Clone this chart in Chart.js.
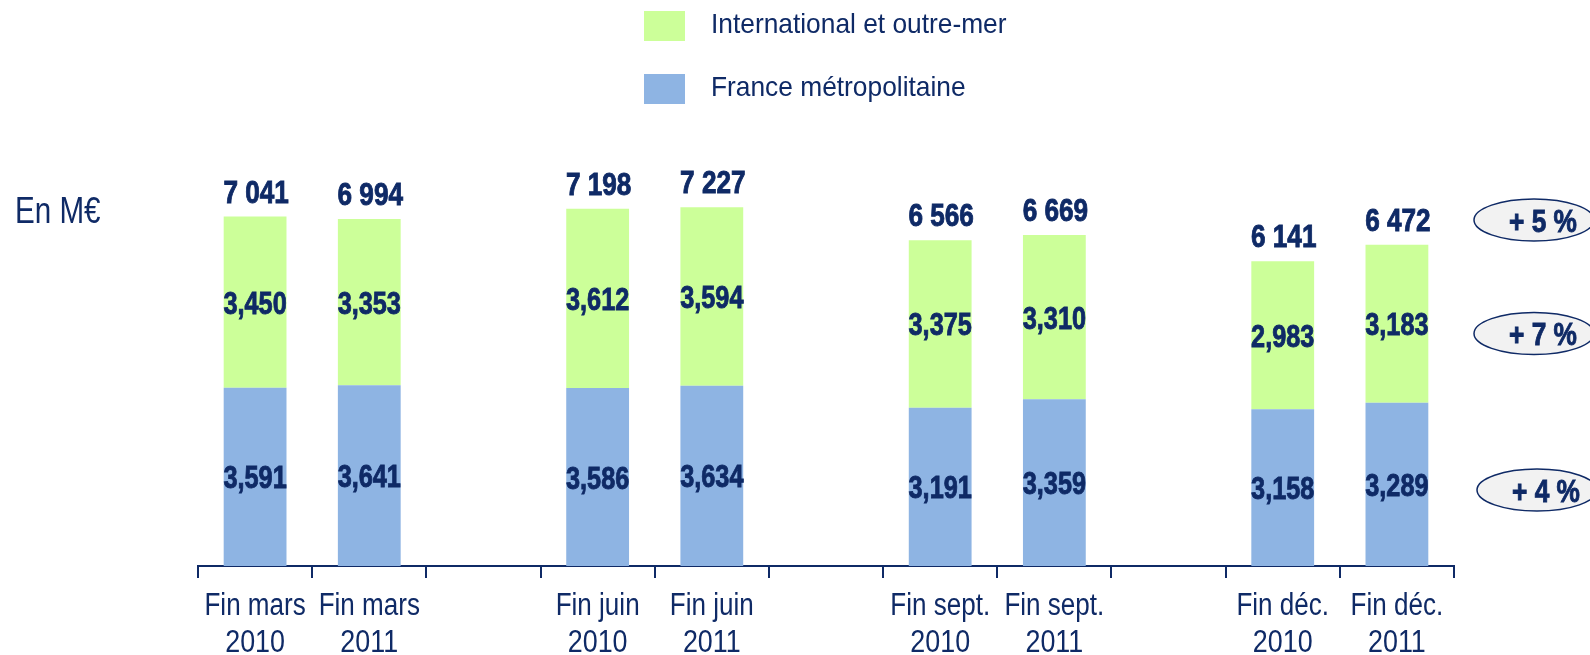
<!DOCTYPE html>
<html lang="fr">
<head>
<meta charset="utf-8" />
<title>Chiffre d'affaires</title>
<script src="https://cdn.jsdelivr.net/npm/chart.js@4.4.1/dist/chart.umd.min.js"></script>
<style>
  html, body { margin: 0; padding: 0; background: #fff; }
  canvas { display: block; }
</style>
</head>
<body>
<canvas id="chart" width="1590" height="655"></canvas>
<script>
const categories = [
  ['Fin mars', '2010'], ['Fin mars', '2011'], '',
  ['Fin juin', '2010'], ['Fin juin', '2011'], '',
  ['Fin sept.', '2010'], ['Fin sept.', '2011'], '',
  ['Fin déc.', '2010'], ['Fin déc.', '2011'],
];
const france = [3591, 3641, null, 3586, 3634, null, 3191, 3359, null, 3158, 3289];
const international = [3450, 3353, null, 3612, 3594, null, 3375, 3310, null, 2983, 3183];
const totals = ['7 041', '6 994', '', '7 198', '7 227', '', '6 566', '6 669', '', '6 141', '6 472'];
// growth bubbles on the right, with the value level they sit at
const growthLabels = ['+ 5 %', '+ 7 %', '+ 4 %'];
const growthLevels = [6972, 4685, 1531];

const NAVY = '#0f2a66';
const GREEN = '#ccff99';
const BLUE = '#8eb4e3';
const FONT = '"Liberation Sans", Arial, sans-serif';

// Arial-like text, squeezed horizontally the way the original is
function text(ctx, str, x, y, size, bold, sx, align) {
  ctx.save();
  ctx.translate(x, y);
  ctx.scale(sx, 1);
  ctx.font = (bold ? 'bold ' : '') + size + 'px ' + FONT;
  ctx.textAlign = align || 'center';
  ctx.textBaseline = 'alphabetic';
  ctx.fillStyle = NAVY;
  ctx.fillText(str, 0, 0);
  if (bold) {
    // the original bold is a bit heavier
    ctx.lineWidth = 0.9;
    ctx.strokeStyle = NAVY;
    ctx.strokeText(str, 0, 0);
  }
  ctx.restore();
}

const labelsPlugin = {
  id: 'labels',
  afterDatasetsDraw(chart) {
    const { ctx } = chart;
    chart.data.datasets.forEach((ds, di) => {
      chart.getDatasetMeta(di).data.forEach((bar, i) => {
        if (ds.data[i] == null) return;
        const mid = (bar.y + bar.base) / 2;
        text(ctx, ds.data[i].toLocaleString('en-US'), bar.x, mid + 11.5, 32, true, 0.79);
      });
    });
    const top = chart.getDatasetMeta(1).data;
    totals.forEach((t, i) => {
      if (!t) return;
      text(ctx, t, top[i].x + 1, top[i].y - 14, 31.5, true, 0.83);
    });
    // category labels under the axis
    const x = chart.scales.x;
    categories.forEach((c, i) => {
      if (!c) return;
      const cx = x.getPixelForValue(i);
      text(ctx, c[0], cx, 615, 31, false, 0.84);
      text(ctx, c[1], cx, 652, 32, false, 0.84);
    });
  },
};

const decorPlugin = {
  id: 'decor',
  afterDraw(chart) {
    const { ctx } = chart;
    const y = chart.scales.y;
    text(ctx, 'En M€', 15, 223, 37, false, 0.8, 'left');

    // legend, stacked vertically (top item = upper segment)
    const items = [chart.data.datasets[1], chart.data.datasets[0]];
    items.forEach((ds, k) => {
      const yy = 11 + k * 63;
      ctx.fillStyle = ds.backgroundColor;
      ctx.fillRect(644, yy, 41, 30);
      text(ctx, ds.label, 711, yy + 22, 28, false, 0.94, 'left');
    });

    growthLabels.forEach((g, k) => {
      const cy = y.getPixelForValue(growthLevels[k]);
      const cx = 1534 + (k === 2 ? 3 : 0);
      ctx.save();
      ctx.beginPath();
      ctx.ellipse(cx, cy, 60, 21, 0, 0, Math.PI * 2);
      ctx.fillStyle = '#f2f2f2';
      ctx.fill();
      ctx.lineWidth = 1.5;
      ctx.strokeStyle = NAVY;
      ctx.stroke();
      ctx.restore();
      text(ctx, g, cx + 9, cy + 11.5, 32, true, 0.82);
    });
  },
};

new Chart(document.getElementById('chart'), {
  type: 'bar',
  data: {
    labels: categories,
    datasets: [
      { label: 'France métropolitaine', data: france, backgroundColor: BLUE },
      { label: 'International et outre-mer', data: international, backgroundColor: GREEN },
    ],
  },
  options: {
    responsive: false,
    animation: false,
    layout: { padding: { left: 198, right: 136, top: 169, bottom: 77 } },
    datasets: { bar: { barPercentage: 0.55, categoryPercentage: 1 } },
    plugins: { legend: { display: false }, tooltip: { enabled: false } },
    scales: {
      x: {
        stacked: true,
        offset: true,
        border: { display: true, color: NAVY, width: 2 },
        grid: {
          offset: true,
          drawOnChartArea: false,
          drawTicks: true,
          tickLength: 12,
          color: NAVY,
          lineWidth: 2,
        },
        ticks: { display: false },
      },
      y: { stacked: true, display: false, min: 0, max: 8000 },
    },
  },
  plugins: [labelsPlugin, decorPlugin],
});
</script>
</body>
</html>
